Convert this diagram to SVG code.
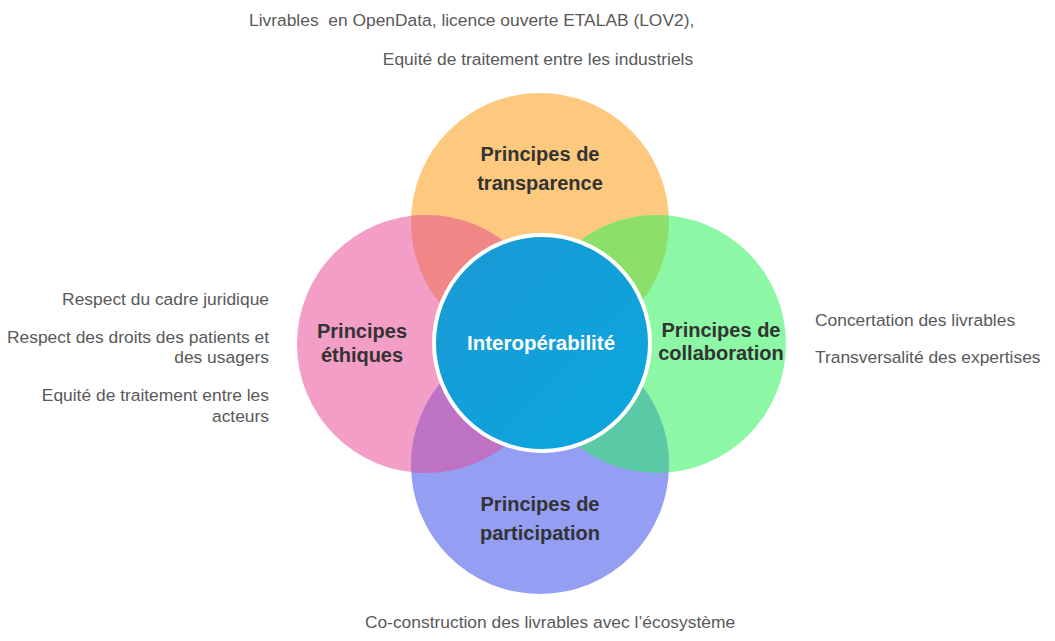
<svg xmlns="http://www.w3.org/2000/svg" width="1055" height="641" viewBox="0 0 1055 641">
<style>
.side{font-family:"Liberation Sans",Arial,sans-serif;font-size:17.4px;fill:#595959}
.title{font-family:"Liberation Sans",Arial,sans-serif;font-size:20px;font-weight:bold;fill:#333333;text-anchor:middle}
.center{font-family:"Liberation Sans",Arial,sans-serif;font-size:20.5px;font-weight:bold;fill:#ffffff;text-anchor:middle}
</style>
<defs>
<clipPath id="cTop"><circle cx="540" cy="222" r="129"/></clipPath>
<clipPath id="cBottom"><circle cx="540" cy="465" r="129"/></clipPath>
<linearGradient id="gCenter" x1="0" y1="0" x2="1" y2="1">
<stop offset="0" stop-color="#1a99d4"/>
<stop offset="1" stop-color="#0aa7de"/>
</linearGradient>
</defs>
<rect width="1055" height="641" fill="#ffffff"/>
<g id="connectors"></g>
<g id="node-transparence">
<circle cx="540" cy="222" r="129" fill="#fdc97e"/>
</g>
<g id="node-ethiques">
<circle cx="426" cy="344" r="129" fill="#f39ec7"/>
</g>
<g id="node-collaboration">
<circle cx="657" cy="344" r="129" fill="#8cf7a4"/>
</g>
<g id="node-participation">
<circle cx="540" cy="465" r="129" fill="#949ff4"/>
</g>
<g id="overlaps">
<circle cx="426" cy="344" r="129" fill="#f08686" clip-path="url(#cTop)"/>
<circle cx="657" cy="344" r="129" fill="#8ce06a" clip-path="url(#cTop)"/>
<circle cx="426" cy="344" r="129" fill="#bd72c4" clip-path="url(#cBottom)"/>
<circle cx="657" cy="344" r="129" fill="#5bc9a6" clip-path="url(#cBottom)"/>
</g>
<g id="labels">
<text class="title" x="540" y="161">Principes de</text>
<text class="title" x="540" y="190">transparence</text>
<text class="title" x="362" y="338">Principes</text>
<text class="title" x="362" y="362">éthiques</text>
<text class="title" x="721" y="337">Principes de</text>
<text class="title" x="721" y="360">collaboration</text>
<text class="title" x="540" y="511">Principes de</text>
<text class="title" x="540" y="540">participation</text>
</g>
<g id="node-interoperabilite">
<circle cx="542" cy="343" r="108" fill="url(#gCenter)" stroke="#ffffff" stroke-width="4"/>
<text class="center" x="541" y="350">Interopérabilité</text>
</g>
<g id="notes">
<text class="side" x="249" y="26" xml:space="preserve">Livrables  en OpenData, licence ouverte ETALAB (LOV2),</text>
<text class="side" x="538" y="65" text-anchor="middle">Equité de traitement entre les industriels</text>
<text class="side" x="269" y="305" text-anchor="end">Respect du cadre juridique</text>
<text class="side" x="269" y="343" text-anchor="end">Respect des droits des patients et</text>
<text class="side" x="269" y="363" text-anchor="end">des usagers</text>
<text class="side" x="269" y="401" text-anchor="end">Equité de traitement entre les</text>
<text class="side" x="269" y="422" text-anchor="end">acteurs</text>
<text class="side" x="815" y="326">Concertation des livrables</text>
<text class="side" x="815" y="363">Transversalité des expertises</text>
<text class="side" x="550" y="628" text-anchor="middle">Co-construction des livrables avec l’écosystème</text>
</g>
</svg>
